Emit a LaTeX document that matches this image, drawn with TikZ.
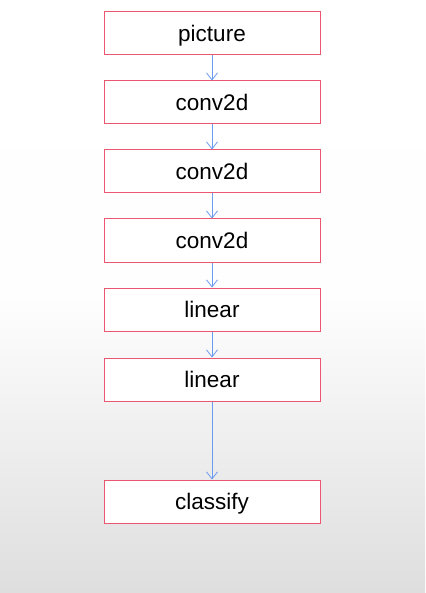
\documentclass[tikz,border=0pt]{standalone}
\usepackage{fontspec}
\setmainfont{Liberation Sans}
\usetikzlibrary{arrows.meta}
\definecolor{boxred}{HTML}{EC5670}
\definecolor{arrblue}{HTML}{6B9BEF}
\definecolor{bggray}{HTML}{DEDEDE}
\begin{document}
\begin{tikzpicture}[x=1pt,y=-1pt,
  layer/.style={draw=boxred,line width=1pt,fill=white,minimum width=216pt,minimum height=43pt,inner sep=0pt,text height=20pt,text depth=4pt,font=\fontsize{22.5}{26}\selectfont},
  link/.style={draw=arrblue,line width=0.8pt,-{Straight Barb[length=7pt,width=11pt,line width=0.8pt]}}]
\shade[top color=white,bottom color=bggray,middle color=white!97!bggray] (0,0) rectangle (425,593);
\useasboundingbox (0,0) rectangle (425,593);
\node[layer] (p) at (212,33.5) {picture};
\node[layer] (c1) at (212,102.5) {conv2d};
\node[layer] (c2) at (212,171.5) {conv2d};
\node[layer] (c3) at (212,240.5) {conv2d};
\node[layer] (l1) at (212,309.5) {linear};
\node[layer] (l2) at (212,379.5) {linear};
\node[layer] (cl) at (212,501.5) {classify};
\draw[link] (p) -- (c1);
\draw[link] (c1) -- (c2);
\draw[link] (c2) -- (c3);
\draw[link] (c3) -- (l1);
\draw[link] (l1) -- (l2);
\draw[link] (l2) -- (cl);
\end{tikzpicture}
\end{document}
